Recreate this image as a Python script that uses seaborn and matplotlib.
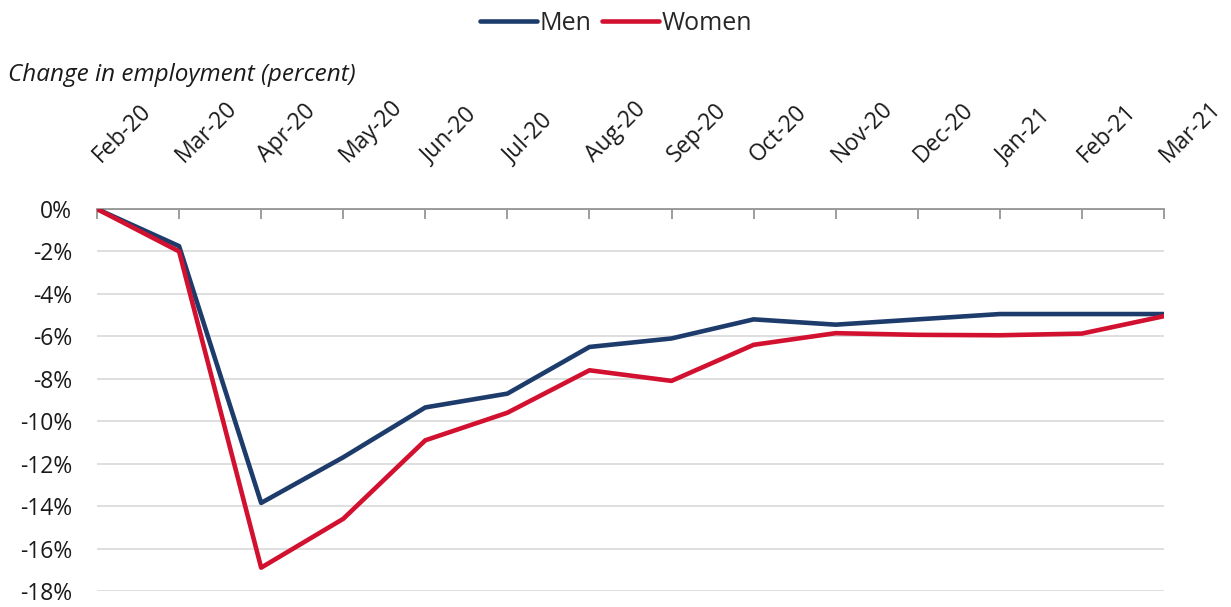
import matplotlib
matplotlib.use('Agg')
from matplotlib import pyplot as plt
from matplotlib.ticker import FuncFormatter
import seaborn as sns
import pandas as pd

months = ['Feb-20', 'Mar-20', 'Apr-20', 'May-20', 'Jun-20', 'Jul-20', 'Aug-20',
          'Sep-20', 'Oct-20', 'Nov-20', 'Dec-20', 'Jan-21', 'Feb-21', 'Mar-21']
men   = [0.0, -1.75, -13.85, -11.7, -9.35, -8.7, -6.5, -6.1, -5.2, -5.45, -5.2, -4.95, -4.95, -4.95]
women = [0.0, -2.0, -16.9, -14.6, -10.9, -9.6, -7.6, -8.1, -6.4, -5.85, -5.93, -5.95, -5.87, -5.05]

df = pd.DataFrame({'month': months * 2,
                   'pos': list(range(len(months))) * 2,
                   'change': men + women,
                   'group': ['Men'] * len(months) + ['Women'] * len(months)})

sns.set_style('white')
plt.rcParams['font.family'] = ['Open Sans', 'DejaVu Sans']

fig = plt.figure(figsize=(12.31, 6.07), dpi=100)
ax = fig.add_axes([97 / 1231, (607 - 591) / 607, (1164 - 97) / 1231, (591 - 209) / 607])

pal = {'Men': '#1d3c6b', 'Women': '#d2102f'}
sns.lineplot(data=df, x='pos', y='change', hue='group', palette=pal, linewidth=3.3,
             ax=ax, legend=False, zorder=3)

ax.set_xlim(0, len(months) - 1)
ax.set_ylim(-18, 0)
ax.set_yticks(range(-18, 1, 2))
ax.yaxis.set_major_formatter(FuncFormatter(lambda v, p: '%d%%' % int(round(v))))
ax.grid(axis='y', color='#d9d9d9', linewidth=1.2)
ax.set_axisbelow(True)
for s in ['left', 'right', 'bottom']:
    ax.spines[s].set_visible(False)
ax.spines['top'].set_color('#8c8c8c')
ax.spines['top'].set_linewidth(1.2)

ax.xaxis.tick_top()
ax.set_xticks(range(len(months)))
ax.set_xticklabels(months, rotation=45, ha='left', va='center', rotation_mode='anchor')
ax.tick_params(axis='x', direction='in', length=7, width=1.2, color='#8c8c8c',
               pad=36, labelsize=16.5, labelcolor='#1a1a1a')
ax.tick_params(axis='y', length=0, pad=18, labelsize=16.5, labelcolor='#1a1a1a')
ax.set_xlabel('')
ax.set_ylabel('')

fig.text(8 / 1231, 1 - 75 / 607, 'Change in employment (percent)', fontsize=17.5,
         style='italic', color='#1a1a1a', va='center', ha='left')

handles = [plt.Line2D([], [], color=pal[g], linewidth=3.3) for g in ['Men', 'Women']]
fig.legend(handles, ['Men', 'Women'], loc='center', bbox_to_anchor=(616 / 1231, 1 - 23 / 607),
           ncol=2, frameon=False, fontsize=18, handlelength=2.3, handletextpad=0.1,
           columnspacing=0.4)

fig.savefig('out.png', dpi=100)
